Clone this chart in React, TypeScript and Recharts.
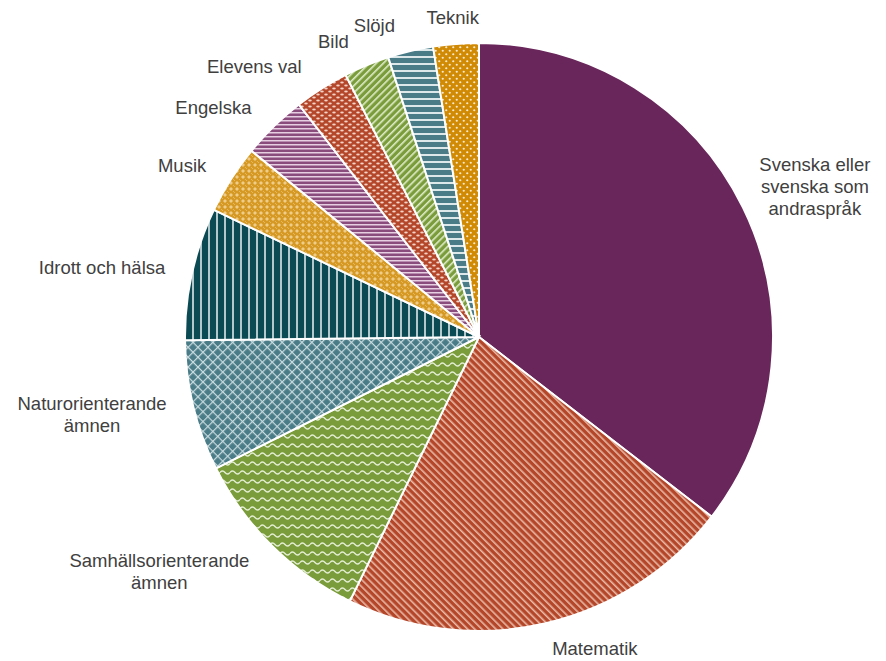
import React from "react";
import { PieChart, Pie, Cell } from "recharts";

const subjects = [
  "Svenska eller svenska som andraspråk",
  "Matematik",
  "Samhällsorienterande ämnen",
  "Naturorienterande ämnen",
  "Idrott och hälsa",
  "Musik",
  "Engelska",
  "Elevens val",
  "Bild",
  "Slöjd",
  "Teknik",
];
const shares = [35.5, 21.8, 10.4, 7.2, 7.3, 3.8, 3.6, 3.0, 2.5, 2.5, 2.5];

const data = subjects.map((name, i) => ({ name, value: shares[i] }));

const FONT = '"Liberation Sans", Arial, sans-serif';
const FONT_SIZE = 18.5;
const LINE_H = 22;
const WRAP_W = 175;
const RADIAN = Math.PI / 180;

let ctx: CanvasRenderingContext2D | null = null;
function textWidth(t: string) {
  if (!ctx) ctx = document.createElement("canvas").getContext("2d");
  if (!ctx) return t.length * FONT_SIZE * 0.5;
  ctx.font = `${FONT_SIZE}px ${FONT}`;
  return ctx.measureText(t).width;
}

function wrap(text: string) {
  const words = text.split(" ");
  const lines: string[] = [];
  let cur = "";
  for (const w of words) {
    const next = cur ? cur + " " + w : w;
    if (cur && textWidth(next) > WRAP_W) {
      lines.push(cur);
      cur = w;
    } else cur = next;
  }
  if (cur) lines.push(cur);
  return lines;
}

function renderLabel(props: any) {
  const { cx, cy, midAngle, outerRadius, name } = props;
  const ux = Math.cos(-midAngle * RADIAN);
  const uy = Math.sin(-midAngle * RADIAN);
  const r = outerRadius + 15;
  const px = cx + r * ux;
  const py = cy + r * uy;
  const lines = wrap(name);
  const w = Math.max(...lines.map(textWidth));
  const h = lines.length * LINE_H;
  let centerX: number;
  if (ux < -0.2) centerX = px - 12 - w / 2;
  else if (ux > 0.2) centerX = px + 3 + w / 2;
  else centerX = px + (ux * w) / 2;
  const centerY = py + (uy * h) / 2;
  return (
    <text
      x={centerX}
      y={centerY}
      textAnchor="middle"
      fill="#404040"
      fontSize={FONT_SIZE}
      fontFamily={FONT}
    >
      {lines.map((l, i) => (
        <tspan
          key={i}
          x={centerX}
          y={centerY - ((lines.length - 1) * LINE_H) / 2 + i * LINE_H}
          dominantBaseline="central"
        >
          {l}
        </tspan>
      ))}
    </text>
  );
}

export default function App() {
  return (
    <div style={{ position: "absolute", left: 0, top: 0, width: 886, height: 661, background: "#fff" }}>
      <PieChart width={886} height={661} margin={{ top: 0, right: 0, bottom: 0, left: 0 }}>
        <defs>
          <pattern id="p0" width="4" height="4" patternUnits="userSpaceOnUse">
            <rect width="4" height="4" fill="#69265A" />
          </pattern>
          <pattern id="p1" width="5" height="5" patternUnits="userSpaceOnUse" patternTransform="rotate(-45)">
            <rect width="5" height="5" fill="#B4462A" />
            <rect x="0" width="1.6" height="5" fill="#E9B9A6" />
          </pattern>
          <pattern id="p2" width="10" height="9" patternUnits="userSpaceOnUse">
            <rect width="10" height="9" fill="#7A9C3A" />
            <path d="M0 4.5 Q2.5 1.5 5 4.5 T10 4.5" stroke="#E4EED3" strokeWidth="1.4" fill="none" />
          </pattern>
          <pattern id="p3" width="7" height="7" patternUnits="userSpaceOnUse" patternTransform="rotate(45)">
            <rect width="7" height="7" fill="#4A7C88" />
            <rect x="0" y="0" width="1.2" height="7" fill="#C9DCE0" />
            <rect x="0" y="0" width="7" height="1.2" fill="#C9DCE0" />
          </pattern>
          <pattern id="p4" width="8" height="8" patternUnits="userSpaceOnUse">
            <rect width="8" height="8" fill="#0C4A53" />
            <rect x="0" width="2" height="8" fill="#B3C8CC" />
          </pattern>
          <pattern id="p5" width="6" height="6" patternUnits="userSpaceOnUse">
            <rect width="6" height="6" fill="#D69A24" />
            <path d="M3 1 L5 3 L3 5 L1 3 Z" fill="#EFCC8A" />
            <circle cx="0" cy="0" r="0.8" fill="#F6DFB0" />
            <circle cx="6" cy="6" r="0.8" fill="#F6DFB0" />
          </pattern>
          <pattern id="p6" width="4" height="4" patternUnits="userSpaceOnUse">
            <rect width="4" height="4" fill="#8A4B7D" />
            <rect y="0" width="4" height="1.5" fill="#E6CFE0" />
          </pattern>
          <pattern id="p7" width="8" height="6" patternUnits="userSpaceOnUse">
            <rect width="8" height="6" fill="#B4462A" />
            <ellipse cx="2" cy="1.5" rx="1.8" ry="0.9" fill="#F3D3C7" />
            <ellipse cx="6" cy="4.5" rx="1.8" ry="0.9" fill="#F3D3C7" />
          </pattern>
          <pattern id="p8" width="5" height="5" patternUnits="userSpaceOnUse" patternTransform="rotate(45)">
            <rect width="5" height="5" fill="#7A9C3A" />
            <rect x="0" width="1.6" height="5" fill="#E0ECCB" />
          </pattern>
          <pattern id="p9" width="7" height="7" patternUnits="userSpaceOnUse">
            <rect width="7" height="7" fill="#4A7C88" />
            <rect y="0" width="7" height="2" fill="#DCE8EA" />
          </pattern>
          <pattern id="p10" width="7" height="7" patternUnits="userSpaceOnUse">
            <rect width="7" height="7" fill="#D08A04" />
            <circle cx="1.75" cy="1.75" r="1.1" fill="#FBEAD0" />
            <circle cx="5.25" cy="5.25" r="1.1" fill="#FBEAD0" />
          </pattern>
        </defs>
        <Pie
          data={data}
          dataKey="value"
          nameKey="name"
          cx={479}
          cy={337}
          outerRadius={294}
          startAngle={90}
          endAngle={-270}
          stroke="#ffffff"
          strokeWidth={2}
          labelLine={false}
          label={renderLabel}
          isAnimationActive={false}
        >
          {data.map((d, i) => (
            <Cell key={d.name} fill={`url(#p${i})`} />
          ))}
        </Pie>
      </PieChart>
    </div>
  );
}
